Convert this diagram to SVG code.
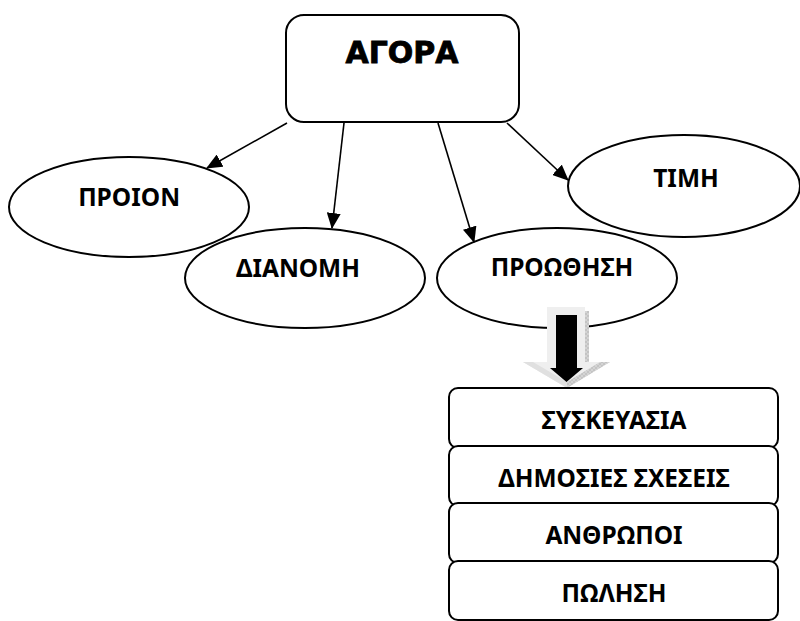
<svg xmlns="http://www.w3.org/2000/svg" width="800" height="621" viewBox="0 0 800 621">
<defs>
<style>
.shape{fill:#fff;stroke:#000;stroke-width:2}
.lbl{font-family:"Noto Sans","Open Sans","Liberation Sans",sans-serif;font-weight:bold;font-size:24.5px;fill:#000;text-anchor:middle}
.title{font-family:"DejaVu Sans","Liberation Sans",sans-serif;font-weight:bold;font-size:30px;fill:#000;stroke:#000;stroke-width:0.8;text-anchor:middle}
.conn{stroke:#000;stroke-width:1.6;fill:none;marker-end:url(#ah)}
</style>
<marker id="ah" viewBox="0 0 16 14" refX="15" refY="7" markerWidth="16" markerHeight="14" markerUnits="userSpaceOnUse" orient="auto">
<path d="M0,0 L16,7 L0,14 Z" fill="#000"/>
</marker>
<pattern id="hatch" width="4" height="4" patternUnits="userSpaceOnUse">
<rect width="4" height="4" fill="#d4d4d4"/>
<path d="M0,0 L4,4 M4,0 L0,4" stroke="#b8b8b8" stroke-width="0.6"/>
</pattern>
</defs>
<rect width="800" height="621" fill="#fff"/>

<g id="agora">
<rect class="shape" x="286" y="15" width="233" height="107" rx="18"/>
<text class="title" x="402" y="63">ΑΓΟΡΑ</text>
</g>

<g id="proion">
<ellipse class="shape" cx="129" cy="207" rx="120" ry="50"/>
<text class="lbl" x="129" y="206">ΠΡΟΙΟΝ</text>
</g>

<g id="timh">
<ellipse class="shape" cx="684" cy="186" rx="116" ry="51"/>
<text class="lbl" x="686" y="187">ΤΙΜΗ</text>
</g>

<g id="dianomh">
<ellipse class="shape" cx="305" cy="278" rx="120" ry="50"/>
<text class="lbl" x="298" y="277">ΔΙΑΝΟΜΗ</text>
</g>

<g id="proothisi">
<ellipse class="shape" cx="557" cy="278" rx="120" ry="50"/>
<text class="lbl" x="562" y="276">ΠΡΟΩΘΗΣΗ</text>
</g>

<g id="connectors">
<line class="conn" x1="287" y1="123" x2="207" y2="168"/>
<line class="conn" x1="344" y1="123" x2="332" y2="228"/>
<line class="conn" x1="438" y1="123" x2="474" y2="242"/>
<line class="conn" x1="507" y1="123" x2="568" y2="180"/>
</g>

<g id="block-arrow">
<polygon points="547,307 585,307 585,362 610,362 567,388 523,362 547,362" fill="#efefef"/>
<rect x="585" y="311" width="4" height="51" fill="url(#hatch)"/>
<polygon points="567,388 610,362 600,362 567,382" fill="url(#hatch)"/>
<polygon points="567,388 523,362 533,362 567,382" fill="#e0e0e0"/>
<polygon points="556,315 577,315 577,368 583,368 566.5,382 550,368 556,368" fill="#000"/>
</g>

<g id="syskeuasia">
<rect class="shape" x="449" y="388" width="329" height="60" rx="9"/>
<text class="lbl" x="614" y="429">ΣΥΣΚΕΥΑΣΙΑ</text>
</g>
<g id="dimosies-sxeseis">
<rect class="shape" x="449" y="446" width="329" height="60" rx="9"/>
<text class="lbl" x="614" y="487">ΔΗΜΟΣΙΕΣ ΣΧΕΣΕΙΣ</text>
</g>
<g id="anthropoi">
<rect class="shape" x="449" y="503" width="329" height="60" rx="9"/>
<text class="lbl" x="614" y="544">ΑΝΘΡΩΠΟΙ</text>
</g>
<g id="polisi">
<rect class="shape" x="449" y="561" width="329" height="59" rx="9"/>
<text class="lbl" x="614" y="602">ΠΩΛΗΣΗ</text>
</g>
</svg>
